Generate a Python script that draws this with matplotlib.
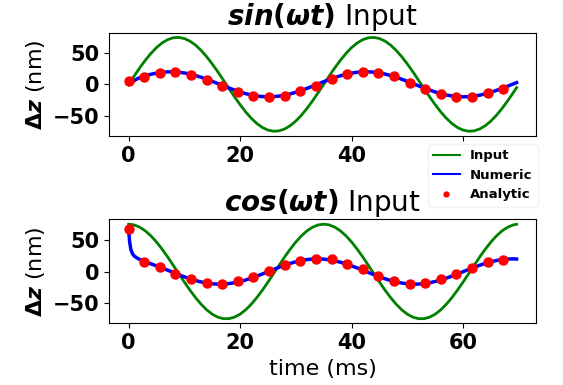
import matplotlib
matplotlib.use('Agg')
import matplotlib.pyplot as plt
from matplotlib.lines import Line2D

# sample times (ms)
t_in = list(range(0, 70)) + [69.6]
t_num = [0, 0.2, 0.4, 0.7, 1, 1.5, 2] + list(range(3, 70)) + [69.6]
t_dots = [0, 2.8, 5.6, 8.4, 11.2, 14.0, 16.8, 19.6, 22.4, 25.2, 28.0, 30.8, 33.6,
          36.4, 39.2, 42.0, 44.8, 47.6, 50.4, 53.2, 56.0, 58.8, 61.6, 64.4, 67.2]

# sin(wt) input case
sin_input = [0, 13.4, 26.4, 38.5, 49.3, 58.6, 66.0, 71.3, 74.3, 74.9, 73.1, 69.0, 62.6, 54.2,
             44.1, 32.5, 20.0, 6.7, -6.7, -20.0, -32.5, -44.1, -54.2, -62.6, -69.0, -73.1,
             -74.9, -74.3, -71.3, -66.0, -58.6, -49.3, -38.5, -26.4, -13.4,
             0, 13.4, 26.4, 38.5, 49.3, 58.6, 66.0, 71.3, 74.3, 74.9, 73.1, 69.0, 62.6, 54.2,
             44.1, 32.5, 20.0, 6.7, -6.7, -20.0, -32.5, -44.1, -54.2, -62.6, -69.0, -73.1,
             -74.9, -74.3, -71.3, -66.0, -58.6, -49.3, -38.5, -26.4, -13.4, -5.4]
sin_numeric = [0.0, 1.4, 2.7, 4.4, 6.0, 8.5, 10.6,
               13.6, 16.0, 17.9, 19.2, 19.9, 19.9, 19.4, 18.1, 16.4, 14.0, 11.3, 8.1, 4.7, 1.2,
               -2.4, -5.9, -9.2, -12.2, -14.9, -17.0, -18.6, -19.6, -20.0, -19.7, -18.8, -17.3,
               -15.3, -12.7, -9.7, -6.5, -3.0, 0.6,
               4.2, 7.6, 10.8, 13.6, 16.0, 17.9, 19.2, 19.9, 19.9, 19.4, 18.1, 16.4, 14.0, 11.3,
               8.1, 4.7, 1.2, -2.4, -5.9, -9.2, -12.2, -14.9, -17.0, -18.6, -19.6, -20.0, -19.7,
               -18.8, -17.3, -15.3, -12.7, -9.7, -6.5, -3.0, 0.6, 2.7]
sin_analytic = [4.9, 11.9, 17.3, 19.0, 15.1, 6.5, -2.2, -11.9, -18.3, -20.5, -18.3, -10.9, -2.2,
                8.1, 15.7, 19.4, 18.3, 12.5, 2.1, -7.0, -15.1, -20.6, -20.6, -14.6, -7.6]

# cos(wt) input case
cos_input = [75.0, 73.8, 70.2, 64.4, 56.5, 46.8, 35.5, 23.2, 9.9, -3.4, -16.7, -29.5, -41.3,
             -51.8, -60.7, -67.6, -72.3, -74.7, -74.7, -72.3, -67.6, -60.7, -51.8, -41.3,
             -29.5, -16.7, -3.4, 9.9, 23.2, 35.5, 46.8, 56.5, 64.4, 70.2, 73.8,
             75.0, 73.8, 70.2, 64.4, 56.5, 46.8, 35.5, 23.2, 9.9, -3.4, -16.7, -29.5, -41.3,
             -51.8, -60.7, -67.6, -72.3, -74.7, -74.7, -72.3, -67.6, -60.7, -51.8, -41.3,
             -29.5, -16.7, -3.4, 9.9, 23.2, 35.5, 46.8, 56.5, 64.4, 70.2, 73.8, 74.8]
cos_numeric = [65.0, 46.0, 35.0, 28.0, 24.5, 21.5, 19.0,
               15.2, 12.2, 9.0, 5.6,
               2.1, -1.5, -5.0, -8.4, -11.5, -14.2, -16.5, -18.3, -19.4, -20.0, -19.9, -19.1,
               -17.8, -15.8, -13.4, -10.5, -7.3, -3.9, -0.3, 3.3, 6.7, 10.0, 12.9, 15.4, 17.5,
               18.9, 19.8, 20.0,
               19.6, 18.5, 16.9, 14.7, 12.0, 8.9, 5.6, 2.1, -1.5, -5.0, -8.4, -11.5, -14.2,
               -16.5, -18.3, -19.4, -20.0, -19.9, -19.1, -17.8, -15.8, -13.4, -10.5, -7.3, -3.9,
               -0.3, 3.3, 6.7, 10.0, 12.9, 15.4, 17.5, 18.9, 19.8, 20.0, 19.8]
cos_analytic = [67.4, 15.7, 7.0, -3.3, -12.1, -18.6, -19.1, -15.3, -8.8, 0.5, 10.3, 17.3, 20.1,
                19.6, 11.9, 3.3, -7.2, -15.3, -19.6, -18.6, -12.6, -3.9, 5.4, 14.7, 18.9]

fs = 15
fig = plt.figure(figsize=(5.63, 3.85), dpi=100)
ax1 = fig.add_axes([0.194, 0.647, 0.758, 0.268])
ax2 = fig.add_axes([0.194, 0.160, 0.758, 0.270])

for ax, inp, num, ana, name in [(ax1, sin_input, sin_numeric, sin_analytic, 'sin'),
                                (ax2, cos_input, cos_numeric, cos_analytic, 'cos')]:
    ax.plot(t_in, inp, c='green', lw=2)
    ax.plot(t_num, num, c='blue', lw=2.5)
    ax.plot(t_dots, ana, 'o', c='red', ms=6.5)
    ax.set_title(r'$\boldsymbol{%s(\omega t)}$ Input' % name, fontsize=20, pad=4)
    ax.set_ylabel(r'$\boldsymbol{\Delta z}$ (nm)', fontsize=16)
    ax.set_xticks([0, 20, 40, 60])
    ax.set_yticks([-50, 0, 50])
    ax.tick_params(labelsize=fs)
    for lab in ax.get_xticklabels() + ax.get_yticklabels():
        lab.set_fontweight('bold')

ax2.set_xlabel('time (ms)', fontsize=16)

handles = [Line2D([], [], c='green', lw=1.5),
           Line2D([], [], c='blue', lw=1.5),
           Line2D([], [], c='red', marker='o', ls='', ms=3.5)]
# legend sits on the lower axes so it covers the upper axes' last tick label
ax2.legend(handles, ['Input', 'Numeric', 'Analytic'], loc='upper right',
           bbox_to_anchor=(538 / 563, 1 - 144 / 385), bbox_transform=fig.transFigure,
           borderaxespad=0, framealpha=1, edgecolor='#f2f2f2',
           prop={'weight': 'bold', 'size': 9.5})

plt.savefig('out.png', dpi=100)
